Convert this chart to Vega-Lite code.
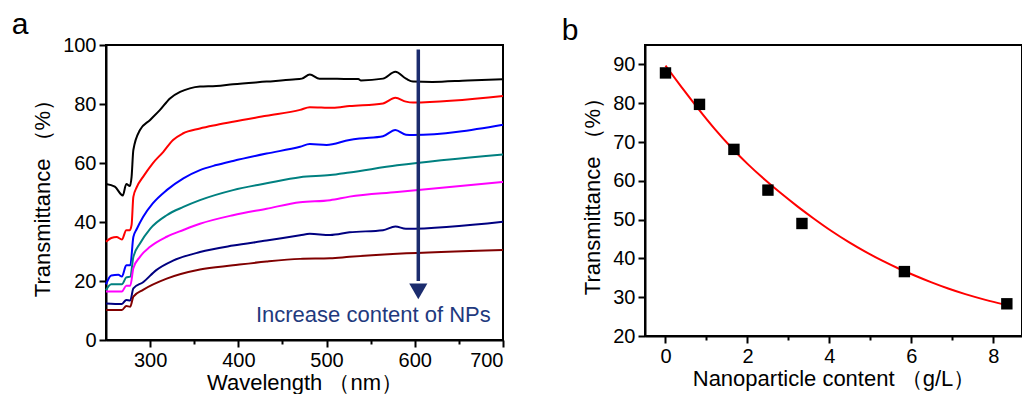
{
  "$schema": "https://vega.github.io/schema/vega-lite/v6.json",
  "background": "white",
  "padding": {"left": 10, "top": 9, "right": 5, "bottom": 0},
  "spacing": 52,
  "config": {
    "font": "Liberation Sans",
    "view": {"stroke": "black", "strokeWidth": 2},
    "axis": {
      "grid": false,
      "domainColor": "black", "domainWidth": 2,
      "tickColor": "black", "tickWidth": 2,
      "labelFont": "Liberation Sans", "labelFontSize": 20, "labelColor": "black", "labelPadding": 3,
      "titleFont": "Liberation Sans", "titleFontSize": 22, "titleFontWeight": "normal", "titleColor": "black"
    },
    "title": {"font": "Liberation Sans", "fontSize": 30, "fontWeight": "normal", "anchor": "start", "color": "black", "frame": "bounds"}
  },
  "datasets": {
    "spectra": [
      {"s":"1","wl":250,"t":52.9},{"s":"1","wl":260,"t":52.0},{"s":"1","wl":269,"t":49.0},{"s":"1","wl":273,"t":52.9},{"s":"1","wl":277,"t":52.2},{"s":"1","wl":279,"t":55.3},{"s":"1","wl":281,"t":64.4},{"s":"1","wl":288.5,"t":71.2},{"s":"1","wl":300,"t":74.6},{"s":"1","wl":311,"t":77.9},{"s":"1","wl":322.5,"t":81.9},{"s":"1","wl":334,"t":84.1},{"s":"1","wl":345,"t":85.3},{"s":"1","wl":356.5,"t":85.9},{"s":"1","wl":375,"t":86.1},{"s":"1","wl":394,"t":86.7},{"s":"1","wl":432,"t":87.6},{"s":"1","wl":462,"t":88.3},{"s":"1","wl":472,"t":88.6},{"s":"1","wl":481,"t":90.0},{"s":"1","wl":492,"t":88.6},{"s":"1","wl":504,"t":88.6},{"s":"1","wl":520,"t":88.5},{"s":"1","wl":536,"t":88.5},{"s":"1","wl":539,"t":88.0},{"s":"1","wl":564,"t":88.6},{"s":"1","wl":578,"t":90.9},{"s":"1","wl":590,"t":88.6},{"s":"1","wl":598,"t":87.6},{"s":"1","wl":620,"t":87.5},{"s":"1","wl":660,"t":88.0},{"s":"1","wl":700,"t":88.4},
      {"s":"2","wl":250,"t":33.3},{"s":"2","wl":256,"t":34.6},{"s":"2","wl":262,"t":34.9},{"s":"2","wl":268,"t":34.1},{"s":"2","wl":273,"t":37.2},{"s":"2","wl":277,"t":37.2},{"s":"2","wl":279,"t":39.0},{"s":"2","wl":281,"t":48.5},{"s":"2","wl":285,"t":51.9},{"s":"2","wl":292,"t":55.3},{"s":"2","wl":303,"t":59.9},{"s":"2","wl":315,"t":63.8},{"s":"2","wl":326,"t":67.8},{"s":"2","wl":337,"t":70.0},{"s":"2","wl":356.5,"t":71.7},{"s":"2","wl":375,"t":72.9},{"s":"2","wl":394,"t":74.0},{"s":"2","wl":432,"t":76.0},{"s":"2","wl":470,"t":78.0},{"s":"2","wl":481,"t":78.9},{"s":"2","wl":507,"t":78.7},{"s":"2","wl":526,"t":79.3},{"s":"2","wl":564,"t":80.2},{"s":"2","wl":578,"t":82.1},{"s":"2","wl":590,"t":80.8},{"s":"2","wl":598,"t":80.5},{"s":"2","wl":700,"t":82.7},
      {"s":"3","wl":250,"t":18.9},{"s":"3","wl":256,"t":21.9},{"s":"3","wl":264,"t":22.1},{"s":"3","wl":268,"t":21.5},{"s":"3","wl":273,"t":25.3},{"s":"3","wl":277.5,"t":25.3},{"s":"3","wl":281,"t":34.9},{"s":"3","wl":285,"t":37.7},{"s":"3","wl":292,"t":41.7},{"s":"3","wl":303,"t":46.3},{"s":"3","wl":318.8,"t":50.8},{"s":"3","wl":337.7,"t":54.8},{"s":"3","wl":356.5,"t":57.6},{"s":"3","wl":375,"t":59.3},{"s":"3","wl":394,"t":60.7},{"s":"3","wl":432,"t":63.2},{"s":"3","wl":470,"t":65.5},{"s":"3","wl":481,"t":66.4},{"s":"3","wl":500,"t":66.1},{"s":"3","wl":526,"t":67.8},{"s":"3","wl":538,"t":68.3},{"s":"3","wl":564,"t":69.1},{"s":"3","wl":578,"t":71.2},{"s":"3","wl":590,"t":69.6},{"s":"3","wl":598,"t":69.5},{"s":"3","wl":700,"t":73.0},
      {"s":"4","wl":250,"t":16.9},{"s":"4","wl":256,"t":18.9},{"s":"4","wl":268,"t":18.9},{"s":"4","wl":273,"t":21.2},{"s":"4","wl":277.5,"t":21.5},{"s":"4","wl":281,"t":28.1},{"s":"4","wl":288.5,"t":32.7},{"s":"4","wl":300,"t":37.7},{"s":"4","wl":318.8,"t":42.3},{"s":"4","wl":337.7,"t":45.1},{"s":"4","wl":356.5,"t":47.4},{"s":"4","wl":394,"t":50.8},{"s":"4","wl":432,"t":53.1},{"s":"4","wl":470,"t":55.2},{"s":"4","wl":504,"t":55.9},{"s":"4","wl":526,"t":56.8},{"s":"4","wl":580,"t":59.2},{"s":"4","wl":700,"t":62.9},
      {"s":"5","wl":250,"t":16.4},{"s":"5","wl":268,"t":16.4},{"s":"5","wl":273,"t":18.4},{"s":"5","wl":277.5,"t":18.4},{"s":"5","wl":281,"t":24.3},{"s":"5","wl":288.5,"t":28.2},{"s":"5","wl":300,"t":31.6},{"s":"5","wl":318.8,"t":35.0},{"s":"5","wl":337.7,"t":37.3},{"s":"5","wl":356.5,"t":39.4},{"s":"5","wl":394,"t":42.3},{"s":"5","wl":432,"t":44.5},{"s":"5","wl":470,"t":46.7},{"s":"5","wl":504,"t":47.4},{"s":"5","wl":526,"t":48.6},{"s":"5","wl":580,"t":50.2},{"s":"5","wl":700,"t":53.6},
      {"s":"6","wl":250,"t":12.4},{"s":"6","wl":268,"t":12.2},{"s":"6","wl":273,"t":13.6},{"s":"6","wl":277.5,"t":13.4},{"s":"6","wl":281,"t":17.5},{"s":"6","wl":292,"t":19.6},{"s":"6","wl":307,"t":23.7},{"s":"6","wl":326,"t":26.9},{"s":"6","wl":356.5,"t":29.8},{"s":"6","wl":394,"t":32.0},{"s":"6","wl":432,"t":33.7},{"s":"6","wl":470,"t":35.5},{"s":"6","wl":481,"t":36.0},{"s":"6","wl":504,"t":35.6},{"s":"6","wl":526,"t":36.5},{"s":"6","wl":564,"t":37.2},{"s":"6","wl":578,"t":38.5},{"s":"6","wl":590,"t":37.7},{"s":"6","wl":700,"t":40.1},
      {"s":"7","wl":250,"t":10.2},{"s":"7","wl":268,"t":10.2},{"s":"7","wl":273,"t":11.5},{"s":"7","wl":277.5,"t":11.3},{"s":"7","wl":281,"t":14.7},{"s":"7","wl":292,"t":17.0},{"s":"7","wl":318.8,"t":20.8},{"s":"7","wl":356.5,"t":23.9},{"s":"7","wl":394,"t":25.3},{"s":"7","wl":432,"t":26.6},{"s":"7","wl":470,"t":27.5},{"s":"7","wl":504,"t":27.7},{"s":"7","wl":526,"t":28.2},{"s":"7","wl":580,"t":29.2},{"s":"7","wl":700,"t":30.5}
    ],
    "fit": [
      {"c":0,"t":89.7},{"c":0.4,"t":84.0},{"c":0.81,"t":78.4},{"c":1.2,"t":73.3},{"c":1.62,"t":68.4},{"c":2.0,"t":64.3},{"c":2.43,"t":60.2},{"c":2.8,"t":56.9},{"c":3.24,"t":53.2},{"c":3.6,"t":50.4},{"c":4.05,"t":47.0},{"c":4.5,"t":44.0},{"c":4.86,"t":41.8},{"c":5.3,"t":39.3},{"c":5.68,"t":37.4},{"c":6.1,"t":35.5},{"c":6.49,"t":33.8},{"c":6.9,"t":32.2},{"c":7.3,"t":30.8},{"c":7.8,"t":29.3},{"c":8.35,"t":27.9}
    ],
    "points": [
      {"c":0,"t":87.8},{"c":0.83,"t":79.7},{"c":1.67,"t":68.1},{"c":2.5,"t":57.6},{"c":3.33,"t":49.0},{"c":5.83,"t":36.6},{"c":8.33,"t":28.3}
    ]
  },
  "hconcat": [
    {
      "width": 397,
      "height": 295,
      "title": {"text": "a", "dx": -20, "offset": -5},
      "layer": [
        {
          "data": {"name": "spectra"},
          "mark": {"type": "line", "strokeWidth": 2, "interpolate": "monotone"},
          "encoding": {
            "x": {"field": "wl", "type": "quantitative",
              "scale": {"domain": [250, 700], "nice": false, "zero": false},
              "axis": {"title": "Wavelength （nm）", "values": [300,350,400,450,500,550,600,650,700],
                "labelExpr": "datum.value % 100 === 0 ? datum.label : ''",
                "tickSize": {"condition": {"test": "datum.value % 100 === 0", "value": 7}, "value": 4},
                "titlePadding": 2}},
            "y": {"field": "t", "type": "quantitative",
              "scale": {"domain": [0, 100], "nice": false},
              "axis": {"title": "Transmittance （%）", "values": [0,10,20,30,40,50,60,70,80,90,100],
                "labelExpr": "datum.value % 20 === 0 ? datum.label : ''",
                "tickSize": {"condition": {"test": "datum.value % 20 === 0", "value": 7}, "value": 4},
                "titlePadding": 8}},
            "color": {"field": "s", "type": "nominal",
              "scale": {"domain": ["1","2","3","4","5","6","7"], "range": ["#000000","#ff0000","#0000ff","#008080","#ff00ff","#000080","#800000"]},
              "legend": null}
          }
        },
        {
          "data": {"values": [{"wl": 604, "t": 98.5, "t2": 20}]},
          "mark": {"type": "rule", "color": "#1b2c6e", "strokeWidth": 3.5},
          "encoding": {
            "x": {"field": "wl", "type": "quantitative"},
            "y": {"field": "t", "type": "quantitative"},
            "y2": {"field": "t2"}
          }
        },
        {
          "data": {"values": [{"wl": 604, "t": 16.5}]},
          "mark": {"type": "point", "shape": "triangle-down", "filled": true, "color": "#1b2c6e", "size": 330, "opacity": 1},
          "encoding": {
            "x": {"field": "wl", "type": "quantitative"},
            "y": {"field": "t", "type": "quantitative"}
          }
        },
        {
          "data": {"values": [{"wl": 553, "t": 6, "label": "Increase content of NPs"}]},
          "mark": {"type": "text", "color": "#1f3a7e", "fontSize": 22, "font": "Liberation Sans", "align": "center", "baseline": "alphabetic"},
          "encoding": {
            "x": {"field": "wl", "type": "quantitative"},
            "y": {"field": "t", "type": "quantitative"},
            "text": {"field": "label"}
          }
        }
      ]
    },
    {
      "width": 377,
      "height": 291,
      "title": {"text": "b", "dx": -20, "offset": -1},
      "layer": [
        {
          "data": {"name": "fit"},
          "mark": {"type": "line", "color": "#ff0000", "strokeWidth": 2, "interpolate": "basis"},
          "encoding": {
            "x": {"field": "c", "type": "quantitative",
              "scale": {"domain": [-0.5, 8.7], "nice": false, "zero": false},
              "axis": {"title": "Nanoparticle content （g/L）", "values": [0,1,2,3,4,5,6,7,8],
                "labelExpr": "datum.value % 2 === 0 ? datum.label : ''",
                "tickSize": {"condition": {"test": "datum.value % 2 === 0", "value": 7}, "value": 4},
                "titlePadding": 2}},
            "y": {"field": "t", "type": "quantitative",
              "scale": {"domain": [20, 95], "nice": false, "zero": false},
              "axis": {"title": "Transmittance （%）", "values": [20,25,30,35,40,45,50,55,60,65,70,75,80,85,90],
                "labelExpr": "datum.value % 10 === 0 ? datum.label : ''",
                "tickSize": {"condition": {"test": "datum.value % 10 === 0", "value": 7}, "value": 4},
                "titlePadding": 8}}
          }
        },
        {
          "data": {"name": "points"},
          "mark": {"type": "point", "shape": "square", "filled": true, "color": "#000000", "size": 130, "opacity": 1},
          "encoding": {
            "x": {"field": "c", "type": "quantitative"},
            "y": {"field": "t", "type": "quantitative"}
          }
        }
      ]
    }
  ]
}
